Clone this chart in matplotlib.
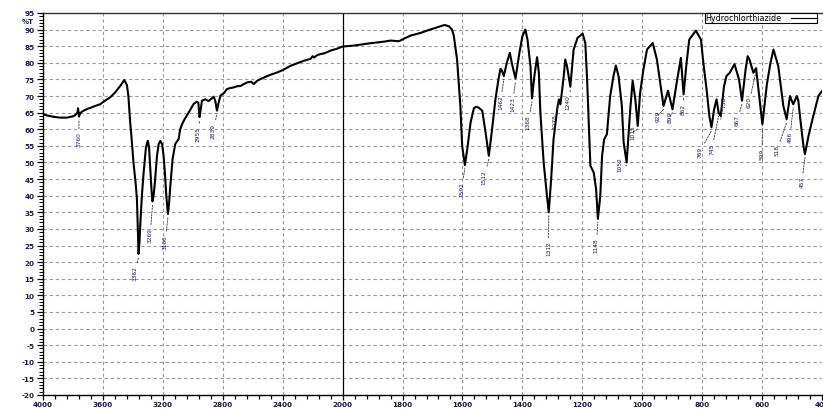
import numpy as np
import matplotlib
matplotlib.use("Agg")
import matplotlib.pyplot as plt
from matplotlib.ticker import FixedLocator, FixedFormatter
from matplotlib.lines import Line2D

# ---------------- data ----------------
wavenumber = [
    4000, 3960, 3920, 3886, 3840, 3800, 3786, 3770, 3766, 3760, 3752, 3740, 3720, 3700,
    3680, 3665, 3640, 3619, 3590, 3552, 3520, 3485, 3465, 3458, 3450, 3440, 3430, 3418,
    3410, 3396, 3380, 3373, 3367, 3362, 3356, 3351, 3340, 3330, 3322, 3314, 3306, 3300,
    3292, 3284, 3276, 3269, 3262, 3255, 3239, 3228, 3217, 3205, 3195, 3185, 3177, 3166,
    3158, 3150, 3135, 3117, 3095, 3084, 3072, 3055, 3039, 3015, 2995, 2973, 2963, 2955,
    2947, 2939, 2917, 2895, 2870, 2861, 2850, 2839, 2830, 2816, 2790, 2772, 2750, 2727,
    2700, 2682, 2660, 2637, 2610, 2593, 2570, 2548, 2504, 2482, 2437, 2400, 2348, 2300,
    2260, 2214, 2200, 2190, 2170, 2150, 2120, 2080, 2040, 2013, 2000, 1962, 1907, 1860,
    1840, 1812, 1790, 1773, 1740, 1718, 1684, 1660, 1645, 1635, 1629, 1618, 1607, 1601,
    1592, 1584, 1573, 1562, 1554, 1546, 1534, 1523, 1512, 1501, 1490, 1479, 1473, 1468,
    1462, 1452, 1442, 1433, 1423, 1410, 1400, 1390, 1383, 1373, 1368, 1360, 1351, 1345,
    1340, 1329, 1318, 1312, 1304, 1296, 1284, 1278, 1273, 1262, 1257, 1251, 1240, 1229,
    1216, 1199, 1190, 1184, 1173, 1162, 1154, 1148, 1140, 1134, 1127, 1118, 1107, 1096,
    1088, 1079, 1068, 1062, 1052, 1040, 1032, 1023, 1015, 1007, 996, 984, 965, 951,
    940, 929, 914, 899, 885, 871, 862, 852, 843, 821, 804, 796, 784, 776,
    769, 760, 752, 745, 738, 727, 719, 708, 692, 677, 667, 655, 648, 642,
    629, 620, 607, 599, 584, 572, 562, 546, 529, 518, 507, 496, 484, 479,
    473, 462, 457, 445, 429, 412, 400,
]
transmittance = [
    64.5, 64.0, 63.7, 63.5, 63.5, 63.9, 64.2, 65.0, 66.3, 63.8, 64.8, 65.3, 65.8, 66.2,
    66.5, 66.8, 67.2, 67.5, 68.5, 69.6, 71.0, 73.0, 74.3, 74.8, 74.2, 73.3, 70.0, 62.0,
    58.0, 50.0, 43.0, 39.0, 30.0, 22.5, 26.0, 31.0, 40.0, 46.0, 50.0, 54.0, 55.8, 56.5,
    54.5, 48.0, 42.0, 38.3, 40.0, 43.0, 52.0, 55.5, 56.5, 55.5, 52.0, 46.0, 40.0, 34.5,
    38.0, 43.0, 51.0, 55.6, 57.0, 60.0, 61.5, 63.0, 64.2, 66.0, 67.6, 68.3, 68.0, 63.7,
    66.0, 68.6, 69.0, 68.5, 69.4, 69.8, 68.6, 65.6, 67.5, 70.1, 71.0, 72.1, 72.4, 72.6,
    73.0, 73.0, 73.6, 74.1, 74.3, 73.6, 74.6, 75.1, 76.0, 76.4, 77.1, 77.8, 79.1, 79.9,
    80.6, 81.2, 82.0, 81.6, 82.3, 82.6, 82.9, 83.7, 84.2, 84.7, 84.9, 85.2, 85.9, 86.4,
    86.7, 86.5, 87.5, 88.2, 89.0, 89.7, 90.7, 91.4, 91.0, 90.0, 88.2, 81.0, 67.0, 55.0,
    49.2, 54.0, 62.0, 66.3, 66.8, 66.5, 65.6, 59.1, 52.0, 60.1, 69.0, 75.5, 78.2, 77.6,
    76.0, 80.0, 83.0, 79.0, 75.3, 83.0, 88.0, 90.0, 87.0, 79.0, 69.3, 76.0, 81.7, 77.0,
    65.0, 50.0, 40.0, 35.0, 45.0, 57.0, 66.0, 69.0, 67.5, 76.0, 81.0, 79.0, 72.8, 84.0,
    87.5, 88.8, 86.0, 75.0, 49.0, 47.0, 42.0, 33.0, 40.0, 52.0, 57.0, 58.5, 70.0, 76.0,
    79.2, 76.0, 67.0, 56.0, 50.0, 66.0, 74.6, 69.0, 61.0, 71.0, 78.0, 84.0, 86.0, 81.0,
    74.0, 67.0, 71.6, 66.0, 74.0, 81.5, 70.5, 80.0, 87.0, 89.7, 87.0, 80.0, 71.0, 64.0,
    60.6, 66.0, 69.0, 65.0, 64.0, 73.0, 76.0, 77.0, 79.6, 75.0, 68.6, 78.0, 82.0, 81.0,
    77.0, 78.4, 68.0, 61.5, 73.5, 80.0, 84.0, 79.0, 67.0, 63.0, 70.0, 67.5, 70.0, 68.6,
    63.5, 55.0, 52.5, 58.0, 64.0, 70.0, 71.5,
]
series_name = "Hydrochlorthiazide"

# labelled band minima (wavenumber of the minimum) and the label text
peak_wn = [3760, 3362, 3269, 3166, 2955, 2839, 1592, 1512, 1462, 1423, 1368, 1312,
           1278, 1240, 1148, 1052, 1015, 929, 899, 862, 769, 745, 738, 667, 620,
           599, 518, 496, 457]
peak_text = [str(p) for p in peak_wn]

x_major = [4000, 3600, 3200, 2800, 2400, 2000, 1800, 1600, 1400, 1200, 1000, 800, 600, 400]
y_major = list(range(-20, 96, 5))

# ---------------- layout ----------------
# where each label's text sits (wavenumber, %T at the top of the text)
label_x = [3760, 3385, 3284, 3184, 2963, 2863, 1603, 1527, 1473, 1433, 1380, 1313,
           1290, 1247, 1153, 1073, 1030, 946, 907, 863, 807, 767, 728, 683, 643,
           600, 550, 507, 467]
label_top = [59.3, 19.0, 30.5, 28.5, 61.0, 62.0, 44.5, 48.0, 70.5, 70.0, 64.5, 26.5,
             65.0, 70.5, 27.5, 52.0, 61.5, 66.0, 65.5, 68.0, 55.0, 56.0, 70.0, 64.5,
             70.0, 54.5, 55.5, 59.5, 46.0]


# increasing piecewise-linear map: above 2000 cm-1 the axis is compressed 2x
def fwd(w):
    w = np.asarray(w, dtype=float)
    return np.where(w >= 2000, 1000.0 + (w - 2000.0) * 0.5, w - 1000.0)


def inv(u):
    u = np.asarray(u, dtype=float)
    return np.where(u >= 1000, 2000.0 + (u - 1000.0) * 2.0, u + 1000.0)


plt.rcParams['font.family'] = ['DejaVu Sans']
fig = plt.figure(figsize=(8.23, 4.10), dpi=100)
ax = fig.add_axes([43 / 823, 14 / 410, 779 / 823, 382 / 410])
ax.set_xscale('function', functions=(fwd, inv))
ax.set_xlim(4000, 400)
ax.set_ylim(-20, 95)

# grid
grid_kw = dict(color='#9a9a9a', lw=0.8, ls=(0, (3, 2.5)), zorder=0)
for xv in x_major[1:-1]:
    if xv != 2000:
        ax.axvline(xv, **grid_kw)
for yv in y_major[1:-1]:
    ax.axhline(yv, **grid_kw)
ax.axvline(2000, color='black', lw=0.9, zorder=1)

ax.plot(wavenumber, transmittance, color='black', lw=1.5, zorder=3,
        solid_joinstyle='round')

# peak labels
T_at = dict(zip(wavenumber, transmittance))
for wn, txt, lx, lt in zip(peak_wn, peak_text, label_x, label_top):
    ymin = T_at[wn]
    ax.annotate(txt, xy=(wn, ymin - 1.0), xytext=(lx, lt),
                textcoords='data', rotation=90, ha='center', va='top',
                fontsize=4.2, color='#1a1a5a',
                arrowprops=dict(arrowstyle='-', lw=0.6, color='#333333',
                                ls=(0, (2, 1.5)), shrinkA=0, shrinkB=0),
                zorder=4)

# ticks
ax.xaxis.set_major_locator(FixedLocator(x_major))
ax.xaxis.set_major_formatter(FixedFormatter([str(v) for v in x_major]))
x_minor = [v for v in range(4000, 2000, -80)] + [v for v in range(2000, 399, -40)]
ax.xaxis.set_minor_locator(FixedLocator(x_minor))
ax.yaxis.set_major_locator(FixedLocator(y_major))
ax.yaxis.set_major_formatter(FixedFormatter([str(v) for v in y_major]))
ax.yaxis.set_minor_locator(FixedLocator(list(range(-20, 96))))

ax.tick_params(axis='x', which='major', direction='out', length=3.5, width=0.9,
               pad=1.0, labelsize=5.2, labelcolor='#1a1a4a')
ax.tick_params(axis='x', which='minor', direction='out', length=3.0, width=0.9)
ax.tick_params(axis='y', which='major', direction='out', length=4.5, width=0.9,
               pad=1.5, labelsize=5.2, labelcolor='#1a1a4a')
ax.tick_params(axis='y', which='minor', direction='out', length=3.0, width=0.7)
for lab in ax.get_xticklabels() + ax.get_yticklabels():
    lab.set_fontweight('bold')

ax.spines['right'].set_visible(False)
ax.spines['top'].set_color('#333333')
for s in ('left', 'bottom', 'top'):
    ax.spines[s].set_linewidth(1.0)

fig.text(28 / 823, 1 - 22 / 410, '%T', fontsize=5.0, fontweight='bold',
         color='#1a1a4a', ha='center', va='center')

handle = Line2D([], [], color='black', lw=0.8)
leg = ax.legend([handle], [series_name], loc='upper right',
                bbox_to_anchor=((817 - 43) / 779, 1.0), borderaxespad=0,
                fontsize=5.8, markerfirst=False, handlelength=3.2,
                borderpad=0.05, handletextpad=1.2, frameon=True, fancybox=False,
                framealpha=1)
leg.get_frame().set_edgecolor('black')
leg.get_frame().set_linewidth(0.8)

fig.savefig('out.png', dpi=100)
